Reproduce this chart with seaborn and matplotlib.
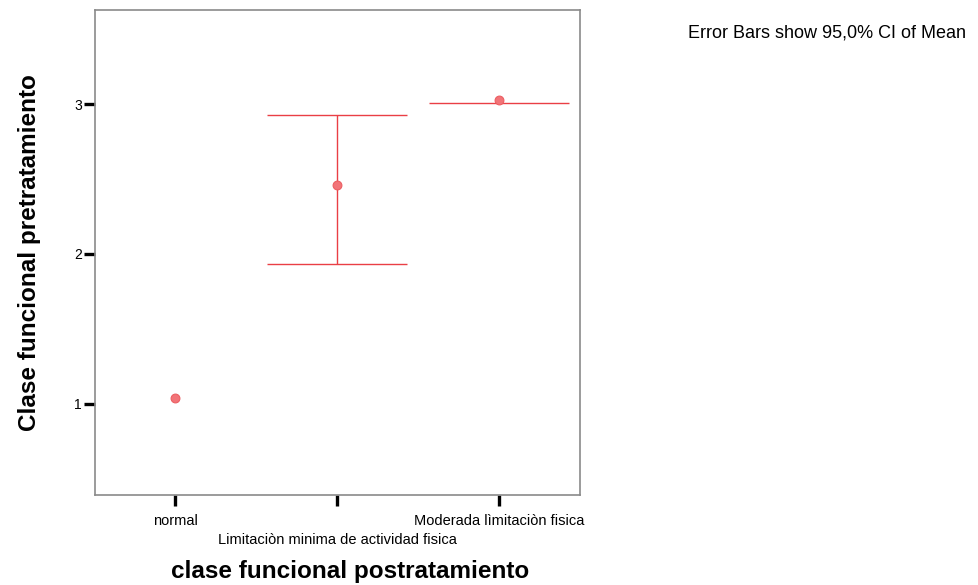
import matplotlib
matplotlib.use("Agg")
import matplotlib.pyplot as plt
import matplotlib.transforms as mtransforms
import seaborn as sns
import pandas as pd

# values
categories = ["normal", "Limitaciòn minima de actividad fisica", "Moderada lìmitaciòn fisica"]
means = [1.04, 2.46, 3.03]
ci_low = [None, 1.935, 3.005]
ci_high = [None, 2.925, 3.005]
y_ticks = [1, 2, 3]

sns.set_style("white")
plt.rcParams["font.family"] = ["Liberation Sans", "DejaVu Sans"]
plt.rcParams["text.color"] = "black"
plt.rcParams["axes.labelcolor"] = "black"
plt.rcParams["xtick.color"] = "black"
plt.rcParams["ytick.color"] = "black"

df = pd.DataFrame({"cat": categories, "mean": means})
df["pos"] = range(len(categories))

fig = plt.figure(figsize=(9.79, 5.85), dpi=100)
ax = fig.add_axes([95 / 979, 90 / 585, 485 / 979, 485 / 585])

line_red = "#ea3f45"
# confidence interval whiskers and caps
for i in range(len(categories)):
    lo, hi = ci_low[i], ci_high[i]
    if lo is None:
        continue
    if hi > lo:
        ax.vlines(i, lo, hi, color=line_red, lw=1.0, zorder=2)
        ax.hlines([lo, hi], i - 0.43, i + 0.43, color=line_red, lw=1.0, zorder=2)
    else:
        ax.hlines(hi, i - 0.43, i + 0.43, color=line_red, lw=1.0, zorder=2)

sns.scatterplot(data=df, x="pos", y="mean", ax=ax, s=40, color="#f27478",
                edgecolor="#ec5e62", linewidth=0.8, zorder=3, legend=False)

ax.set_xlim(-0.494, 2.5)
ax.set_ylim(0.393, 3.627)
ax.set_yticks(y_ticks)
ax.set_yticklabels([str(t) for t in y_ticks], fontsize=10)
ax.set_xticks(range(len(categories)))
ax.set_xticklabels(categories, fontsize=10.5)

ax.tick_params(axis="both", which="major", direction="out", length=8, width=2.4,
               color="black", left=True, bottom=True)
ax.tick_params(axis="y", pad=1.5)
ax.tick_params(axis="x", pad=5.5)

# stagger the middle category label like the original
shift = mtransforms.ScaledTranslation(0, -19 / 100, fig.dpi_scale_trans)
mid = ax.get_xticklabels()[1]
mid.set_transform(mid.get_transform() + shift)

for sp in ax.spines.values():
    sp.set_color("#8a8a8a")
    sp.set_linewidth(1.2)

ax.set_xlabel("clase funcional postratamiento", fontsize=17.5, fontweight="bold")
ax.set_ylabel("Clase funcional pretratamiento", fontsize=17.5, fontweight="bold")
ax.xaxis.set_label_coords(0.526, -0.134)
ax.yaxis.set_label_coords(-0.112, 0.5)

fig.text(688 / 979, 1 - 33 / 585, "Error Bars show 95,0% CI of Mean", fontsize=13,
         ha="left", va="center")

fig.savefig("out.png", dpi=100)
